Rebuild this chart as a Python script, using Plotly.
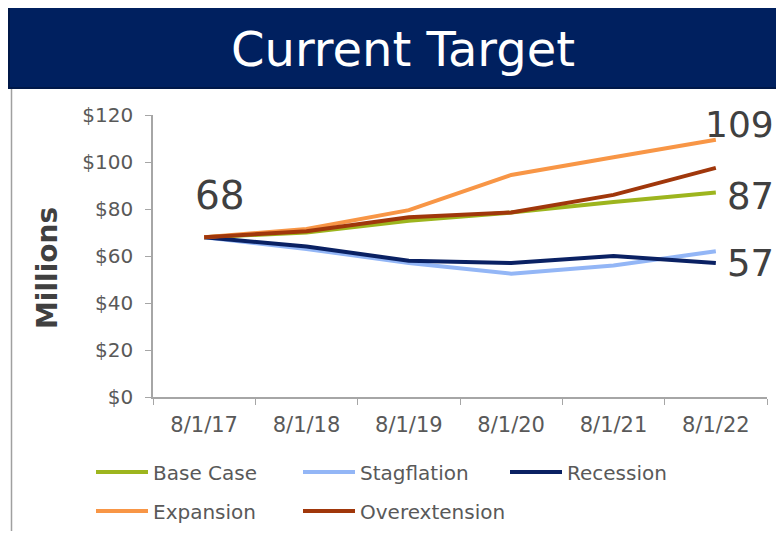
import plotly.graph_objects as go

dates = ["8/1/17", "8/1/18", "8/1/19", "8/1/20", "8/1/21", "8/1/22"]
base_case = [68, 70, 75, 78.5, 83, 87]
stagflation = [68, 63, 57, 52.5, 56, 62]
recession = [68, 64, 58, 57, 60, 57]
expansion = [68, 71.5, 79.5, 94.5, 102, 109.5]
overextension = [68, 70.5, 76.5, 78.5, 86, 97.5]

OFF = 8  # page body margin
W, H = 784 - 2 * OFF, 539 - 2 * OFF
L, T = 153 - OFF, 115 - OFF
pw, ph = 614, 282
R, B = W - L - pw, H - T - ph


# screen pixel -> paper / container coordinates
def px_x(x):
    return (x - OFF - L) / pw


def px_y(y):
    return (T + ph - (y - OFF)) / ph


def cx(x):
    return (x - OFF) / W


def cy(y):
    return 1 - (y - OFF) / H


ITEMW = 52
series = [
    ("Base Case", base_case, "#9DB51E", "legend", 207),
    ("Stagflation", stagflation, "#93B6F6", "legend", 207),
    ("Recession", recession, "#0A2163", "legend", None),
    ("Expansion", expansion, "#F89646", "legend2", 207),
    ("Overextension", overextension, "#A0370B", "legend2", None),
]

fig = go.Figure()
for name, vals, color, leg, lw in series:
    tr = go.Scatter(x=dates, y=vals, name=name, mode="lines",
                    line=dict(color=color, width=4), legend=leg)
    if lw:
        tr.legendwidth = lw - ITEMW - 15
    fig.add_trace(tr)

legend_style = dict(orientation="h", xref="container", yref="container",
                    xanchor="left", yanchor="middle", bgcolor="rgba(0,0,0,0)",
                    itemwidth=ITEMW, font=dict(size=20, color="#595959"))

fig.update_layout(
    width=W, height=H,
    margin=dict(l=L, r=R, t=T, b=B),
    plot_bgcolor="white", paper_bgcolor="white",
    font=dict(family="DejaVu Sans", color="#595959"),
    title=dict(text="Current Target", x=cx(403), y=cy(49),
               xref="container", yref="container",
               xanchor="center", yanchor="middle",
               font=dict(size=48, color="white")),
    legend=dict(x=cx(91), y=cy(472), **legend_style),
    legend2=dict(x=cx(91), y=cy(511), **legend_style),
    xaxis=dict(type="category", range=[-0.5, 5.5], tickson="boundaries",
               ticks="outside", ticklen=6, tickcolor="#A6A6A6",
               showline=True, linecolor="#A6A6A6", linewidth=1.5,
               showgrid=False, ticklabelstandoff=8,
               tickfont=dict(size=21, color="#595959")),
    yaxis=dict(range=[0, 120], dtick=20, tickprefix="$", ticks="outside",
               ticklen=6, tickcolor="#A6A6A6", showline=True,
               linecolor="#A6A6A6", linewidth=1.5, showgrid=False,
               zeroline=False, ticklabelstandoff=8,
               tickfont=dict(size=20, color="#595959")),
)

# title banner and left rule
fig.add_shape(type="rect", xref="paper", yref="paper",
              x0=px_x(9), x1=px_x(800), y0=px_y(88), y1=px_y(6),
              fillcolor="#00205F", line=dict(color="#001848", width=2),
              layer="below")
fig.add_shape(type="line", xref="paper", yref="paper",
              x0=px_x(11.5), x1=px_x(11.5), y0=px_y(89), y1=px_y(545),
              line=dict(color="#A0A0A0", width=1.5))

fig.add_annotation(text="<b>Millions</b>", xref="paper", yref="paper",
                   x=px_x(47), y=px_y(268), xanchor="center", yanchor="middle",
                   textangle=-90, showarrow=False,
                   font=dict(size=28, color="#404040"))

labels = [
    ("68", dates[0], base_case[0], "center", 16, 42, 39),
    ("109", dates[-1], expansion[-1], "right", 60, 15, 36),
    ("87", dates[-1], base_case[-1], "right", 60, -4, 37),
    ("57", dates[-1], recession[-1], "right", 60, 0, 37),
]
for txt, xv, yv, anchor, dx, dy, fs in labels:
    fig.add_annotation(text=txt, x=xv, y=yv, xanchor=anchor, yanchor="middle",
                       xshift=dx, yshift=dy, showarrow=False,
                       font=dict(size=fs, color="#404040"))

fig.write_html("out.html")
